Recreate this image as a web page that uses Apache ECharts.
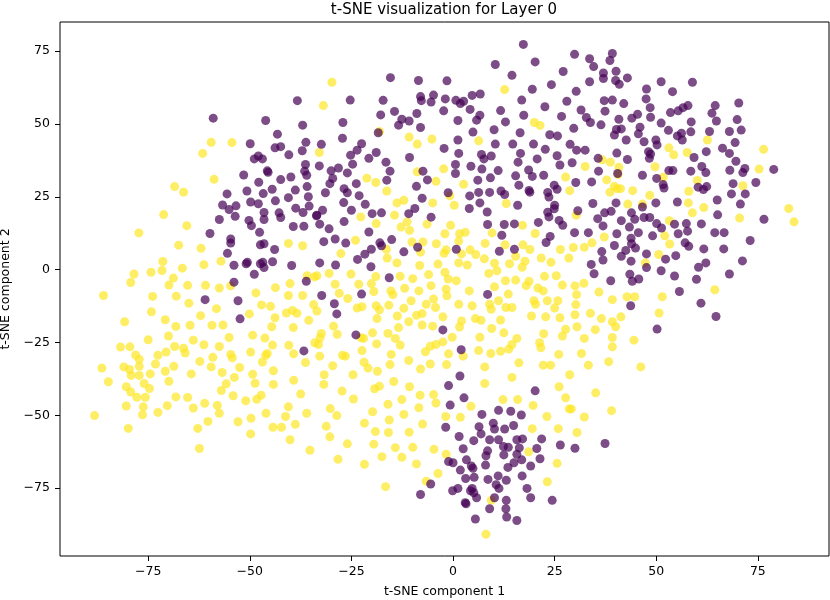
<!DOCTYPE html>
<html>
<head>
<meta charset="utf-8">
<title>t-SNE Layer 0</title>
<script src="https://cdn.jsdelivr.net/npm/echarts@6/dist/echarts.min.js"></script>
<style>
    html, body { margin: 0; padding: 0; background: #fff; }
    #chart { width: 830px; height: 600px; }
</style>
</head>
<body>
<div id="chart"></div>
<script>
// label 0 points (dark purple)
const purplePoints = [
    [-38.3,58.0],[-59.0,52.0],[-46.1,51.2],[-37.0,49.6],[-43.2,46.5],[-49.9,43.2],[-36.2,43.7],[-43.8,41.8],[-42.4,42.2],[-40.4,39.4],
    [-37.1,40.8],[-48.9,38.0],[-47.9,39.0],[-46.9,38.0],[-45.7,33.9],[-45.5,33.4],[-36.3,36.1],[-36.5,33.8],[-36.0,32.4],[-51.5,32.5],
    [-47.8,30.0],[-42.4,30.9],[-39.9,31.8],[-35.9,28.5],[-44.5,27.6],[-38.8,27.3],[-50.7,27.0],[-46.7,26.1],[-55.6,26.0],[-35.6,25.0],
    [-40.5,24.7],
    [17.3,77.3],[10.4,70.4],[20.2,71.3],[14.5,66.7],[27.1,68.0],[-15.4,65.9],[-8.5,64.9],[-1.5,64.8],[24.2,63.5],[19.5,61.9],
    [-25.3,58.2],[-17.2,58.1],[-8.0,59.4],[-7.8,58.0],[-4.8,59.9],[-5.4,57.5],[-1.9,58.6],[0.7,58.1],[1.8,57.0],[2.6,57.8],
    [4.2,55.0],[4.7,59.8],[6.7,60.3],[11.7,54.6],[16.9,58.2],[22.6,55.9],[28.0,57.8],[-2.3,54.5],[-14.4,54.3],[-17.8,53.1],
    [-8.9,53.6],[-12.6,51.6],[-10.8,51.0],[-13.4,49.6],[1.2,51.2],[6.6,53.0],[5.8,51.3],[12.9,50.7],[17.4,53.0],[26.7,52.6],
    [-27.1,50.5],[-18.4,47.0],[-8.0,48.8],[4.9,47.2],[10.1,48.0],[16.5,47.0],[23.8,46.3],[25.7,45.9],[-27.2,45.1],[-32.4,43.0],
    [-22.5,43.2],[-23.6,41.0],[-25.2,39.3],[-18.9,40.2],[-20.7,38.2],[-24.7,36.2],[-32.9,35.6],[-28.2,34.9],[-30.0,33.9],[-26.0,33.2],
    [-29.6,31.3],[-30.3,29.5],[-23.8,29.5],[-26.8,27.8],[-26.0,26.4],[-31.4,26.4],[-23.1,25.4],[-16.5,36.9],[-15.5,33.8],[-16.3,30.7],
    [-10.7,38.5],[-2.2,41.6],[1.4,39.9],[1.2,44.5],[-7.4,33.8],[-6.3,30.8],[-9.0,28.6],[0.6,36.1],[0.6,33.0],[4.4,35.5],
    [7.0,39.5],[7.6,38.0],[9.4,39.0],[7.1,34.5],[11.1,34.0],[6.1,30.7],[9.2,31.5],[10.4,43.1],[14.7,43.1],[16.6,39.9],
    [16.0,36.9],[19.8,43.1],[22.7,41.3],[20.7,38.0],[25.6,39.1],[26.3,35.9],[18.6,34.2],[19.5,32.0],[22.3,32.4],[15.4,32.2],
    [16.2,29.0],[18.7,27.2],[18.9,26.6],[11.8,27.0],[12.7,25.8],[6.3,26.5],[9.0,26.5],[4.1,25.3],[23.3,26.5],[23.6,24.9],
    [24.9,29.0],[25.6,27.6],[-1.2,26.4],[-7.6,24.5],[28.8,43.0],
    [29.9,73.9],[33.6,72.4],[39.2,74.2],[38.6,71.8],[34.6,69.7],[37.0,67.5],[37.0,65.6],[40.1,68.1],[40.0,64.9],[40.9,63.6],
    [42.9,65.8],[33.6,64.5],[30.3,61.2],[51.2,64.5],[58.9,64.3],[47.6,62.0],[54.0,61.1],[47.5,58.6],[48.5,55.6],[37.2,58.0],
    [39.2,58.2],[42.0,57.0],[31.5,54.8],[37.4,54.4],[32.8,52.2],[33.8,50.5],[36.4,49.7],[40.8,51.6],[44.0,52.0],[45.4,53.3],
    [48.6,52.3],[46.0,48.9],[45.6,46.6],[40.2,48.1],[41.4,48.3],[39.7,46.2],[29.7,48.5],[42.6,44.5],[30.4,41.0],[32.5,41.0],
    [29.3,36.7],[35.7,38.2],[40.3,40.0],[42.9,37.8],[47.0,43.9],[49.9,44.5],[50.2,42.8],[48.1,40.5],[48.6,39.7],[48.3,38.2],
    [51.2,50.3],[53.5,53.9],[55.4,54.5],[56.6,55.6],[57.8,56.3],[53.0,47.8],[55.2,45.9],[56.2,46.8],[56.4,44.5],[58.6,50.7],
    [58.5,47.3],[64.5,56.3],[63.7,53.7],[64.8,51.0],[70.3,57.2],[69.9,51.5],[63.1,47.4],[68.0,47.4],[70.9,47.9],[69.4,43.6],
    [66.3,41.7],[68.0,39.9],[62.3,40.5],[59.3,38.5],[61.2,35.4],[62.2,33.3],[69.6,37.2],[68.1,34.1],[71.8,34.7],[71.3,33.3],
    [78.9,34.4],[74.5,29.9],[68.9,29.5],[68.5,26.0],[71.9,26.0],[58.5,33.8],[53.1,34.0],[54.1,34.0],[60.3,28.3],[61.6,27.5],
    [62.4,28.5],[51.7,29.2],[51.9,28.0],[46.6,32.4],[30.2,29.9],[34.1,30.1],[35.8,33.8],[40.5,33.0],[50.1,31.3],
    [-56.7,22.2],[-55.1,20.6],[-53.4,21.9],[-49.8,23.2],[-47.9,22.6],[-43.7,23.6],[-46.5,19.6],[-46.5,17.2],[-42.8,19.5],[-42.4,17.9],
    [-38.7,21.1],[-36.9,19.6],[-35.4,21.8],[-33.6,18.5],[-57.5,17.2],[-53.6,18.3],[-50.2,16.9],[-49.6,15.1],[-39.3,14.8],[-36.7,14.9],
    [-47.6,12.8],[-59.8,12.4],[-54.7,10.5],[-54.7,9.1],[-47.4,8.5],[-46.5,8.9],[-43.9,6.9],[-55.5,5.6],[-53.9,1.5],[-50.6,2.5],
    [-50.9,2.0],[-47.4,2.0],[-46.8,2.5],[-46.5,0.7],[-44.4,2.7],[-39.7,1.4],[-48.9,-1.6],[-36.1,-4.0],[-53.9,-4.3],[-61.0,-10.3],
    [-52.9,-10.7],[-52.4,-16.9],[-36.7,-27.9],
    [-32.1,20.4],[-33.5,18.7],[-26.9,23.0],[-25.0,20.4],[-21.6,22.4],[-32.8,15.6],[-30.5,14.0],[-26.8,16.5],[-19.9,19.2],[-17.6,19.5],
    [-20.7,12.9],[-15.1,10.3],[-18.0,9.2],[-17.6,8.2],[-31.8,9.6],[-29.0,10.5],[-26.4,9.1],[-20.1,7.0],[-21.7,5.3],[-23.5,3.5],
    [-32.8,2.3],[-28.9,1.6],[-20.2,1.0],[-12.1,6.1],[-10.9,19.2],[-9.4,21.0],[-5.4,18.0],[-8.7,7.7],[-15.7,-2.8],[-32.3,-8.9],
    [-22.5,-8.4],[-29.2,-11.7],[-28.6,-15.2],[-23.9,-22.4],[-2.5,-20.7],[2.0,-27.5],[1.7,-36.5],[0.8,7.0],[4.0,21.0],[6.6,22.9],
    [8.4,19.8],[8.5,15.5],[12.6,15.5],[15.1,15.7],[12.0,11.8],[11.4,6.3],[15.1,7.0],[15.9,22.1],[21.0,16.2],[23.9,11.4],
    [22.9,9.3],[25.0,22.1],[24.9,20.9],[23.3,19.7],[23.6,18.1],[26.1,16.9],[27.0,15.2],[8.5,-8.5],
    [34.4,22.7],[40.1,22.9],[46.6,21.5],[49.9,22.9],[55.2,23.2],[65.0,23.9],[70.7,22.5],[30.7,20.2],[37.3,19.5],[38.9,20.0],
    [35.6,17.5],[41.4,16.8],[43.9,19.5],[44.7,17.3],[47.0,17.9],[48.4,17.9],[50.1,15.8],[51.3,14.3],[54.5,15.6],[57.4,15.8],
    [57.7,13.2],[55.4,12.3],[61.1,15.7],[65.1,18.8],[76.5,17.3],[29.9,12.7],[33.3,12.7],[36.9,15.0],[40.3,12.3],[43.4,14.6],
    [45.6,12.7],[49.1,11.6],[43.8,10.8],[43.9,8.9],[44.9,7.4],[39.7,8.3],[42.5,6.6],[41.4,4.6],[36.6,6.2],[36.9,3.3],
    [34.0,1.8],[34.7,-1.4],[47.6,5.4],[43.8,2.9],[52.3,3.6],[47.6,0.7],[51.2,-0.4],[54.8,4.8],[57.1,9.2],[58.0,8.0],
    [61.7,7.1],[64.4,12.7],[66.7,12.7],[66.6,7.1],[73.1,10.0],[62.2,2.3],[60.4,0.8],[71.2,3.0],[68.0,-1.5],[59.9,-3.3],
    [54.5,-2.2],[43.5,-1.6],[44.1,-4.0],[45.7,-3.2],[38.8,-3.8],[55.7,-7.5],[61.0,-11.5],[43.7,-12.4],[64.7,-16.1],[50.2,-20.4],
    [-1.1,-39.8],[-0.7,-46.5],[2.7,-44.0],[7.1,-49.7],[11.2,-48.3],[14.2,-48.6],[16.8,-49.9],[20.2,-41.6],[-1.8,-54.1],[1.5,-57.3],
    [6.4,-53.9],[6.9,-56.4],[9.9,-52.7],[10.2,-54.7],[12.7,-54.7],[14.9,-53.5],[9.0,-58.4],[11.2,-58.4],[5.1,-58.7],[2.5,-61.5],
    [8.5,-62.2],[8.1,-63.9],[12.4,-60.7],[13.6,-61.0],[15.7,-58.4],[17.1,-58.1],[16.3,-61.2],[15.7,-63.4],[12.5,-63.6],[21.8,-58.1],
    [20.6,-61.4],[21.4,-64.9],[16.9,-65.3],[15.0,-66.3],[19.1,-67.4],[13.5,-67.9],[8.0,-67.1],[3.3,-65.3],[4.5,-67.4],[4.9,-68.2],
    [-1.1,-65.9],[0.0,-66.3],[1.8,-68.8],[3.1,-71.7],[5.2,-71.3],[8.6,-72.0],[11.1,-70.8],[10.6,-73.8],[11.3,-75.1],[13.1,-72.3],
    [17.0,-70.8],[-5.5,-73.6],[-8.0,-77.2],[-0.1,-75.9],[1.2,-75.1],[4.7,-75.1],[5.1,-76.6],[4.3,-75.9],[5.8,-78.3],[3.0,-80.0],
    [3.2,-80.4],[10.2,-78.3],[9.0,-82.1],[13.1,-79.2],[13.0,-82.1],[13.2,-84.9],[15.7,-86.1],[5.5,-85.6],[18.2,-75.1],[19.1,-78.3],
    [24.4,-79.2],[26.4,-60.2],[30.0,-61.3],[37.4,-59.7]
];

// label 1 points (yellow)
const yellowPoints = [
    [-59.5,43.7],[-54.4,43.6],[-61.6,39.9],[-58.8,31.0],[-68.5,28.5],[-66.3,26.6],
    [-29.8,64.3],[-31.9,56.3],[12.7,61.8],[-18.1,47.4],[-10.8,45.5],[-8.8,43.1],[-5.2,44.8],[6.3,44.2],[20.0,50.5],[21.4,49.5],
    [-32.9,40.2],[-21.2,31.4],[-19.0,29.9],[-16.3,27.0],[-8.8,33.6],[-4.2,30.3],[-2.3,34.6],[2.6,29.3],[-0.8,25.3],[27.7,31.8],
    [28.7,27.1],
    [62.6,44.5],[76.4,41.3],[53.1,41.8],[54.3,39.4],[57.6,40.2],[32.5,35.4],[36.7,37.7],[38.7,36.9],[40.8,35.1],[40.6,32.6],
    [49.7,35.3],[51.7,31.7],[37.8,30.8],[39.7,28.6],[40.4,27.8],[41.2,27.8],[38.6,26.6],[44.2,27.1],[48.4,25.5],[60.1,30.6],
    [58.0,26.9],[75.3,34.5],[71.3,28.8],
    [-71.2,18.9],[-65.5,15.1],[-77.3,12.6],[-67.5,8.4],[-62.0,7.3],[-71.4,2.8],[-71.6,-0.3],[-78.5,-1.5],[-79.3,-4.4],[-74.3,-0.9],
    [-68.8,-2.9],[-69.9,-5.3],[-66.6,0.5],[-61.3,1.7],[-57.1,2.9],[-86.0,-8.9],[-73.9,-9.2],[-68.1,-9.1],[-65.3,-5.4],[-60.9,-5.4],
    [-57.5,-6.3],[-54.7,-5.6],[-65.0,-11.5],[-74.2,-14.5],[-80.8,-17.9],[-70.8,-17.2],[-68.2,-19.5],[-64.7,-19.1],[-62.1,-15.8],[-58.2,-13.4],
    [-59.3,-19.1],[-56.6,-19.0],[-50.1,-15.2],[-47.1,-12.1],[-44.9,-12.6],[-43.8,-16.5],[-44.6,-19.6],[-48.5,-8.0],[-43.7,-6.2],[-40.5,-8.9],
    [-40.1,-4.8],[-37.0,-8.9],[-35.9,-2.1],[-34.1,-2.5],[-40.5,9.0],[-37.0,8.2],[-41.0,-14.9],[-39.5,-14.0],[-38.4,-15.0],[-35.5,-17.4],
    [-39.3,-19.9],[-34.3,-12.0],[-49.3,-22.5],[-46.3,-23.5],[-44.4,-25.9],[-40.4,-26.0],[-34.0,-25.1],[-55.1,-23.3],[-70.0,-22.8],[-75.0,-24.1],
    [-63.9,-24.2],[-61.3,-25.8],[-57.5,-26.4],[-81.8,-26.6],[-79.5,-26.5],[-68.5,-26.4],[-66.3,-27.0],[-65.9,-28.6],[-78.1,-29.3],[-77.2,-30.8],
    [-77.2,-33.2],[-72.6,-29.4],[-70.6,-28.3],[-73.2,-32.4],[-68.7,-33.2],[-59.1,-30.1],[-62.3,-31.5],[-59.5,-33.4],[-54.7,-29.1],[-54.3,-30.3],
    [-52.5,-33.6],[-49.8,-28.3],[-46.1,-29.4],[-45.7,-28.8],[-46.9,-31.7],[-44.2,-34.7],[-39.2,-28.9],[-36.3,-31.9],[-86.4,-33.8],[-81.0,-33.4],
    [-79.6,-34.3],[-79.2,-36.3],[-77.2,-36.3],[-74.5,-35.8],[-70.8,-34.9],[-64.4,-35.8],[-56.8,-35.3],[-49.3,-35.9],[-53.8,-37.0],
    [-84.8,-38.5],[-80.4,-40.2],[-79.3,-42.0],[-76.0,-39.1],[-74.7,-40.8],[-77.8,-43.8],[-75.7,-43.8],[-69.9,-38.3],[-80.4,-46.8],[-76.2,-47.1],
    [-76.4,-49.8],[-88.2,-50.1],[-79.9,-54.5],[-72.6,-49.0],[-70.3,-46.7],[-68.2,-43.7],[-65.3,-43.9],[-63.9,-47.5],[-61.1,-45.9],[-62.8,-54.5],
    [-60.3,-52.1],[-62.4,-61.4],[-58.0,-46.6],[-57.5,-49.3],[-57.0,-41.5],[-55.8,-39.2],[-54.1,-43.3],[-51.0,-45.0],[-48.7,-39.0],[-48.3,-44.5],
    [-47.2,-43.1],[-52.9,-52.2],[-49.7,-51.0],[-49.8,-56.4],[-46.0,-49.3],[-44.2,-39.4],[-44.3,-54.1],[-42.2,-54.1],[-40.5,-47.1],[-41.2,-50.4],
    [-38.8,-53.1],[-40.1,-58.4],[-39.2,-38.0],[-37.5,-42.7],[-36.0,-49.3],[-35.2,-62.0],
    [-13.8,22.9],[-12.1,23.8],[-5.0,22.9],[0.3,22.1],[13.1,22.7],[-22.7,18.1],[-18.9,15.8],[-14.4,18.7],[-12.8,14.6],[-11.3,16.4],
    [-10.7,13.5],[-6.4,15.6],[-0.6,15.2],[-2.0,12.3],[1.6,12.3],[3.0,12.8],[9.6,12.6],[17.1,15.2],[20.2,12.4],
    [-24.0,10.1],[-27.6,5.5],[-16.4,7.0],[-16.2,4.0],[-13.8,2.3],[-10.1,9.5],[-7.4,9.5],[-8.0,6.0],[-4.1,8.9],[-8.2,1.4],
    [-3.7,1.9],[-1.7,6.8],[-2.2,5.6],[1.4,9.8],[2.1,5.4],[4.2,6.8],[5.6,5.2],[7.9,9.0],[7.7,3.7],[1.4,2.3],
    [3.5,1.6],[10.2,2.2],[10.8,-0.4],[12.8,8.5],[13.9,2.0],[17.2,8.5],[18.9,6.9],[17.7,2.9],[17.0,0.8],[15.4,4.6],
    [24.1,2.5],[26.4,6.9],[28.5,4.0],[21.7,4.0],[8.8,-1.3],
    [-33.5,-2.1],[-30.5,-1.3],[-25.1,-1.5],[-29.0,-5.0],[-23.2,-5.0],[-28.0,-8.1],[-25.9,-9.9],[-20.1,-4.8],[-19.0,-2.4],[-13.0,-2.3],
    [-9.9,-3.1],[-15.3,-7.3],[-14.8,-8.6],[-11.9,-6.4],[-19.5,-7.5],[-6.0,-1.7],[-5.4,-5.5],[-2.0,-0.9],[-1.2,-3.2],[0.8,-3.8],
    [-8.4,-7.3],[-1.7,-6.7],[-1.5,-9.0],[4.0,-7.3],[10.2,-5.9],[12.9,-3.8],[15.4,-3.6],[13.6,-8.4],[11.2,-10.7],[18.7,-4.0],
    [18.0,-5.5],[20.9,-6.3],[22.2,-7.3],[22.5,-2.3],[25.4,-2.1],[26.9,-5.3],[19.9,-10.7],[20.3,-11.9],[23.2,-10.7],[25.8,-10.7],
    [-33.5,-14.2],[-23.6,-13.2],[-22.4,-12.7],[-18.9,-12.4],[-18.1,-13.8],[-18.7,-16.8],[-15.8,-12.2],[-13.7,-15.9],[-12.1,-13.3],[-10.3,-10.7],
    [-9.0,-15.7],[-7.6,-15.1],[-6.6,-11.9],[-4.8,-10.1],[-4.3,-13.0],[-2.5,-16.2],[1.4,-11.9],[4.7,-12.4],[2.1,-17.6],[1.6,-19.7],
    [5.5,-16.8],[6.9,-17.4],[9.0,-11.9],[9.4,-13.6],[11.7,-17.3],[13.0,-13.0],[14.5,-13.0],[9.5,-20.2],[12.5,-21.7],[19.3,-15.9],
    [22.8,-16.2],[25.0,-13.2],[26.3,-16.5],[27.7,-20.5],[22.3,-22.0],[-7.6,-19.0],[-5.0,-19.4],[-13.4,-19.9],[-10.9,-17.9],[-16.0,-21.9],
    [-19.8,-21.7],[-22.6,-23.4],[-22.0,-23.6],[-29.4,-19.4],[-32.4,-21.9],[-32.7,-23.4],[-28.5,-22.2],[-33.1,-25.7],
    [-13.0,-25.9],[-14.2,-23.6],[-18.8,-25.5],[-22.4,-27.8],[-27.2,-29.4],[-26.5,-29.7],[-32.8,-29.7],[-29.6,-33.0],[-21.9,-31.8],[-20.9,-33.8],
    [-18.6,-34.9],[-24.6,-36.1],[-15.2,-29.1],[-15.5,-32.6],[-10.9,-31.2],[-8.0,-34.1],[-6.8,-28.2],[-5.6,-26.3],[-4.2,-25.7],[-2.5,-24.8],
    [-0.2,-23.2],[-1.1,-28.9],[2.5,-29.7],[-5.6,-32.4],[-1.6,-32.6],[6.3,-27.8],[6.6,-23.2],[9.3,-28.8],[11.7,-28.0],[13.7,-27.3],
    [14.5,-25.7],[15.7,-23.6],[16.2,-32.0],[7.8,-33.4],[14.5,-37.0],[22.2,-32.8],[24.0,-32.8],[21.3,-25.1],[21.6,-26.8],[26.0,-29.1],
    [26.9,-22.8],[28.7,-36.1],[-31.7,-36.1],
    [43.0,22.5],[46.6,22.5],[57.9,22.9],[61.7,21.3],[58.9,19.5],[70.5,17.7],[82.6,21.0],[83.9,16.4],[30.3,18.7],[53.2,16.8],
    [37.2,11.2],[34.2,9.2],[32.3,7.7],[29.6,7.6],[52.1,11.6],[53.3,8.8],[50.6,5.2],[47.3,2.3],[32.2,-4.7],[30.0,-5.6],
    [30.4,-8.6],[35.9,-7.7],[39.2,-10.3],[42.8,-9.3],[44.7,-9.3],[51.5,-9.3],[30.2,-12.0],[33.8,-15.0],[30.0,-15.5],[36.5,-16.8],
    [39.2,-17.9],[40.0,-19.6],[41.3,-16.2],[50.7,-14.9],[64.4,-6.9],[30.5,-19.6],[35.0,-20.6],[32.3,-23.6],[39.2,-23.3],[39.2,-26.5],
    [44.5,-24.2],[31.6,-28.8],[33.3,-32.8],[38.3,-31.6],[46.2,-33.4],
    [-31.8,-39.4],[-27.3,-41.7],[-24.5,-44.4],[-30.2,-47.7],[-28.6,-50.1],[-31.2,-53.8],[-30.3,-57.4],[-26.0,-59.8],[-28.3,-65.1],[-21.8,-52.7],
    [-19.3,-40.9],[-18.1,-40.0],[-14.6,-38.4],[-10.7,-40.2],[-16.0,-46.2],[-15.7,-51.6],[-15.9,-55.9],[-19.8,-48.8],[-19.1,-55.6],[-19.5,-59.9],
    [-21.8,-66.8],[-17.5,-64.2],[-14.2,-61.1],[-12.6,-44.6],[-12.1,-49.7],[-12.6,-64.4],[-9.9,-61.0],[-10.8,-55.8],[-9.0,-66.7],[-8.1,-43.1],
    [-8.4,-47.4],[-7.5,-53.0],[-4.8,-42.9],[-4.2,-45.8],[-4.7,-61.7],[-1.7,-63.4],[-3.7,-70.0],[-6.6,-72.6],[-16.6,-74.5],[-1.8,-50.4],
    [1.8,-50.7],[4.4,-46.9],[7.8,-39.1],[12.3,-44.6],[15.9,-44.6],[19.7,-46.6],[19.5,-54.6],[18.6,-62.5],[9.4,-79.2],[8.1,-90.8],
    [23.1,-50.4],[26.1,-40.2],[27.7,-44.0],[28.6,-47.8],[25.9,-54.6],[25.6,-66.5],[23.2,-72.8],
    [35.1,-42.3],[29.1,-47.8],[39.0,-48.4],[32.3,-50.6],[30.5,-55.9]
];

const tickValues = [-75, -50, -25, 0, 25, 50, 75];

let myChart = echarts.init(document.getElementById('chart'));

const axisFont = {
    color: '#000',
    fontFamily: 'DejaVu Sans',
    fontSize: 12.5
};

// matplotlib style minus sign
function fmt(v) {
    return String(v).replace('-', '\u2212');
}

let option = {
    animation: false,
    backgroundColor: '#fff',
    title: {
        text: 't-SNE visualization for Layer 0',
        left: 444,
        top: 3,
        padding: 0,
        textAlign: 'center',
        textStyle: {
            color: '#000',
            fontFamily: 'DejaVu Sans',
            fontSize: 15,
            fontWeight: 'normal'
        }
    },
    grid: {
        left: 60,
        right: 1,
        top: 22,
        bottom: 44,
        outerBoundsMode: 'none',
        containLabel: false,
        show: true,
        borderColor: '#000',
        borderWidth: 1,
        backgroundColor: 'transparent'
    },
    xAxis: {
        type: 'value',
        min: -96.7,
        max: 92.5,
        name: 't-SNE component 1',
        nameLocation: 'middle',
        nameGap: 29,
        nameTextStyle: axisFont,
        splitLine: { show: false },
        axisLine: { show: false, onZero: false },
        axisTick: {
            show: true,
            length: 5,
            customValues: tickValues,
            lineStyle: { color: '#000' }
        },
        axisLabel: Object.assign({
            margin: 9,
            customValues: tickValues,
            formatter: fmt
        }, axisFont)
    },
    yAxis: {
        type: 'value',
        min: -98.3,
        max: 85.0,
        name: 't-SNE component 2',
        nameLocation: 'middle',
        nameGap: 36,
        nameTextStyle: axisFont,
        splitLine: { show: false },
        axisLine: { show: false, onZero: false },
        axisTick: {
            show: true,
            length: 5,
            customValues: tickValues,
            lineStyle: { color: '#000' }
        },
        axisLabel: Object.assign({
            margin: 10,
            customValues: tickValues,
            formatter: fmt
        }, axisFont)
    },
    series: [
        {
            type: 'scatter',
            data: yellowPoints,
            symbolSize: 9,
            itemStyle: {
                color: '#fde725',
                opacity: 0.7
            }
        },
        {
            type: 'scatter',
            data: purplePoints,
            symbolSize: 9,
            itemStyle: {
                color: '#440154',
                opacity: 0.7
            }
        }
    ]
};

myChart.setOption(option);
</script>
</body>
</html>
